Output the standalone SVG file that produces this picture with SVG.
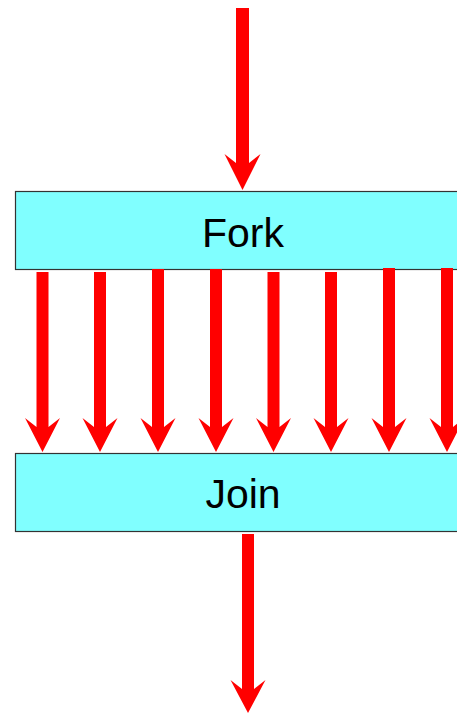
<svg xmlns="http://www.w3.org/2000/svg" width="457" height="713" viewBox="0 0 457 713">
<style>
.box{fill:#80FFFF;stroke:#333;stroke-width:1.2}
.lbl{font-family:"Liberation Sans",Arial,sans-serif;font-size:41px;fill:#000;text-anchor:middle}
.arr{fill:#FF0000;stroke:none}
</style>
<rect width="457" height="713" fill="#fff"/>
<g id="fork">
<rect class="box" x="15.5" y="191.5" width="460" height="78"/>
<text class="lbl" x="243" y="247">Fork</text>
</g>
<g id="join">
<rect class="box" x="15.5" y="453.5" width="460" height="78"/>
<text class="lbl" x="243" y="508">Join</text>
</g>
<g id="connectors">
<polygon class="arr" points="236,8 249,8 249,163 260.5,154 242.5,190 224.5,154 236,163"/>
<polygon class="arr" points="36.5,272 48.5,272 48.5,427 60,418 42.5,452 25,418 36.5,427"/>
<polygon class="arr" points="94,272 106,272 106,427 117.5,418 100,452 82.5,418 94,427"/>
<polygon class="arr" points="152,269 164,269 164,427 175.5,418 158,452 140.5,418 152,427"/>
<polygon class="arr" points="210,269 222,269 222,427 233.5,418 216,452 198.5,418 210,427"/>
<polygon class="arr" points="267.5,272 279.5,272 279.5,427 291,418 273.5,452 256,418 267.5,427"/>
<polygon class="arr" points="325,272 337,272 337,427 348.5,418 331,452 313.5,418 325,427"/>
<polygon class="arr" points="383,268 395,268 395,427 406.5,418 389,452 371.5,418 383,427"/>
<polygon class="arr" points="441,268 453,268 453,427 464.5,418 447,452 429.5,418 441,427"/>
<polygon class="arr" points="242,534 254,534 254,689 265.5,680 248,713 230.5,680 242,689"/>
</g>
</svg>
